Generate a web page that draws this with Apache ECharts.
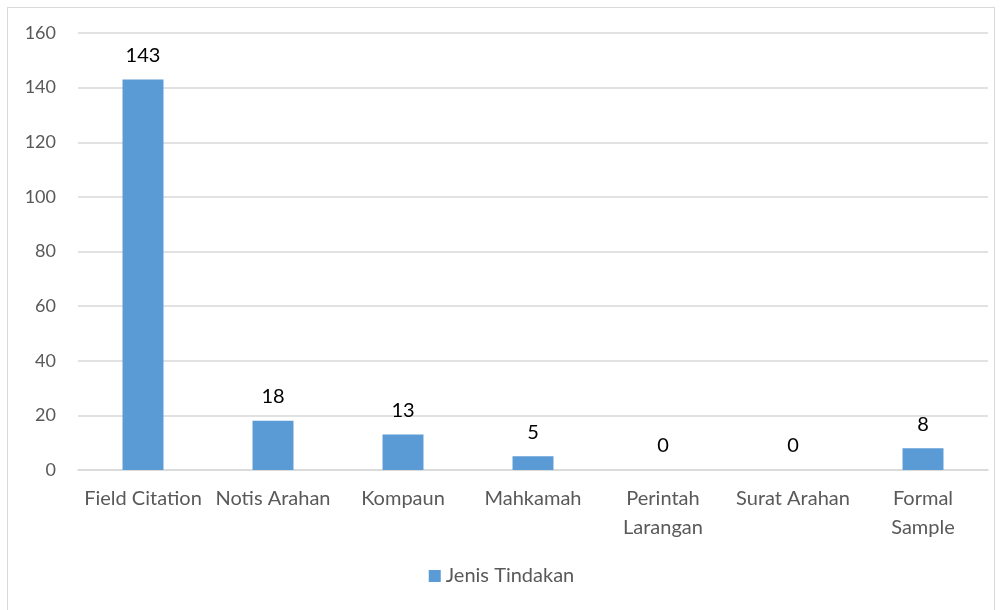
<!DOCTYPE html>
<html>
<head>
<meta charset="utf-8">
<script src="https://cdn.jsdelivr.net/npm/echarts@6/dist/echarts.min.js"></script>
<style>
  html, body { margin: 0; padding: 0; background: #fff; }
  #frame { position: absolute; left: 7px; top: 7px; width: 988px; height: 620px; border: 1px solid #d9d9d9; box-sizing: border-box; }
  #chart { position: absolute; left: 0; top: 0; width: 1003px; height: 610px; }
</style>
</head>
<body>
<div id="frame"></div>
<div id="chart"></div>
<script>
  // data
  const categories = ['Field Citation', 'Notis Arahan', 'Kompaun', 'Mahkamah', 'Perintah Larangan', 'Surat Arahan', 'Formal Sample']
  const counts = [143, 18, 13, 5, 0, 0, 8]
  const seriesName = 'Jenis Tindakan'
  // labels Excel wrapped onto two lines
  const wrapped = ['Perintah Larangan', 'Formal Sample']

  const font = 'Lato, "Open Sans", sans-serif'
  const chart = echarts.init(document.getElementById('chart'))

  chart.setOption({
    animation: false,
    textStyle: { fontFamily: font },
    legend: {
      bottom: 19,
      left: 'center',
      icon: 'rect',
      itemWidth: 12,
      itemHeight: 12,
      itemGap: 5,
      textStyle: { color: '#595959', fontSize: 20, fontFamily: font },
      data: [seriesName]
    },
    grid: {
      top: 33,
      left: 78,
      right: 15,
      bottom: 140
    },
    xAxis: {
      type: 'category',
      data: categories,
      axisTick: { show: false },
      axisLine: { lineStyle: { color: '#d9d9d9', width: 1.5 } },
      axisLabel: {
        color: '#595959',
        fontSize: 20,
        fontFamily: font,
        margin: 14,
        lineHeight: 29,
        interval: 0,
        formatter: v => wrapped.includes(v) ? v.replace(' ', '\n') : v
      }
    },
    yAxis: {
      type: 'value',
      min: 0,
      max: 160,
      interval: 20,
      axisLine: { show: false },
      axisTick: { show: false },
      axisLabel: { color: '#595959', fontSize: 18, fontFamily: font, margin: 22 },
      splitLine: { lineStyle: { color: '#d9d9d9', width: 1.5 } }
    },
    series: [{
      name: seriesName,
      type: 'bar',
      data: counts,
      barWidth: '31.5%',
      itemStyle: { color: '#5b9bd5' },
      label: {
        show: true,
        position: 'top',
        distance: 14,
        color: '#000',
        fontSize: 20,
        fontFamily: font
      }
    }]
  })
</script>
</body>
</html>
